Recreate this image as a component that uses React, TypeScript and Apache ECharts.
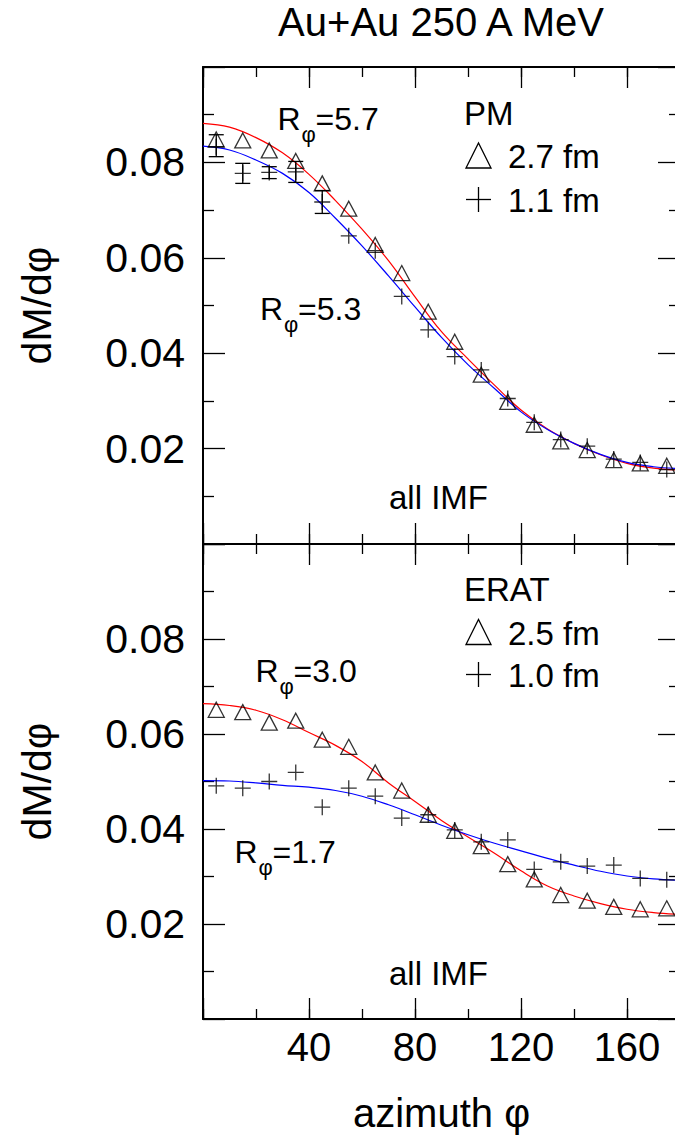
import React, { useEffect, useRef } from "react";
import * as echarts from "echarts";

// ---------- data ----------
const phi = [5, 15, 25, 35, 45, 55, 65, 75, 85, 95, 105, 115, 125, 135, 145, 155, 165, 175];

// PM panel
const pm27 = [0.0848, 0.0846, 0.0825, 0.0803, 0.0756, 0.0703, 0.0627, 0.0568, 0.0487, 0.0424, 0.0355, 0.0298, 0.025, 0.0215, 0.0197, 0.0176, 0.0169, 0.0164];
const pm11 = [0.0833, 0.0777, 0.0779, 0.078, 0.0717, 0.0646, 0.0615, 0.0519, 0.0449, 0.0393, 0.0365, 0.0305, 0.0255, 0.0219, 0.0205, 0.0178, 0.0171, 0.0156];
const pmErrPhi = [5, 15, 25, 35, 45];
const pmErrLow = [0.0812, 0.0756, 0.0766, 0.0758, 0.0693];
const pmErrHigh = [0.0858, 0.0798, 0.0791, 0.0802, 0.0741];

// ERAT panel
const erat25 = [0.0651, 0.0646, 0.0624, 0.0628, 0.0588, 0.0573, 0.0519, 0.0481, 0.043, 0.0396, 0.0364, 0.0326, 0.0294, 0.0261, 0.0249, 0.0236, 0.0231, 0.0233];
const erat10 = [0.0491, 0.0486, 0.05, 0.0519, 0.0446, 0.0486, 0.0469, 0.0423, 0.043, 0.0398, 0.0373, 0.0377, 0.0315, 0.0331, 0.0322, 0.0324, 0.0296, 0.0293];

// fitted curves (read at these azimuths)
const fitPhi = [0, 10, 20, 30, 40, 50, 60, 70, 80, 90, 100, 110, 120, 130, 140, 150, 160, 170, 180];
const pmFit57 = [0.0882, 0.0874, 0.0852, 0.082, 0.0775, 0.072, 0.066, 0.0594, 0.0518, 0.0445, 0.0388, 0.0333, 0.0281, 0.0241, 0.0211, 0.0187, 0.0169, 0.0159, 0.0155];
const pmFit53 = [0.0834, 0.0826, 0.0805, 0.0777, 0.0737, 0.0683, 0.0625, 0.0562, 0.0497, 0.0433, 0.0376, 0.0326, 0.0277, 0.024, 0.0211, 0.0188, 0.0171, 0.0162, 0.0158];
const eratFit30 = [0.0664, 0.066, 0.065, 0.063, 0.0603, 0.0576, 0.0542, 0.0497, 0.0458, 0.0418, 0.0383, 0.0349, 0.0312, 0.028, 0.0259, 0.0243, 0.0231, 0.0224, 0.022];
const eratFit17 = [0.0502, 0.0501, 0.0497, 0.0492, 0.0488, 0.0481, 0.0469, 0.0451, 0.043, 0.0408, 0.0388, 0.037, 0.0354, 0.0338, 0.0324, 0.0311, 0.0301, 0.0295, 0.0292];

// tick labels
const xTickLabels = [40, 80, 120, 160];
const yTickLabels = ["0.02", "0.04", "0.06", "0.08"];

// ---------- styling ----------
const FONT = "'Liberation Sans', Arial, Helvetica, sans-serif";
const BLACK = "#000000";
const PHI = "\u03c6";

const zip = (xs: number[], ys: number[]) => xs.map((x, i) => [x, ys[i]]);

function xAxis(gridIndex: number, position: string, major: boolean, labels: boolean, name?: string) {
  return {
    type: "value",
    gridIndex,
    position,
    min: 0,
    max: 180,
    interval: major ? 40 : 20,
    axisLine: { show: major, onZero: false, lineStyle: { color: BLACK, width: 2 } },
    axisTick: { show: true, inside: true, length: major ? 21 : 10, lineStyle: { color: BLACK, width: 1.3 } },
    axisLabel: labels
      ? {
          show: true,
          fontSize: 40,
          fontFamily: FONT,
          color: BLACK,
          margin: 8,
          formatter: (v: number) => (xTickLabels.indexOf(Math.round(v)) >= 0 ? String(Math.round(v)) : ""),
        }
      : { show: false },
    splitLine: { show: false },
    name: name || "",
    nameLocation: "middle",
    nameGap: 74,
    nameTextStyle: { fontSize: 40, fontFamily: FONT, color: BLACK },
  };
}

function yAxis(gridIndex: number, position: string, labels: boolean) {
  return {
    type: "value",
    gridIndex,
    position,
    min: 0,
    max: 0.1,
    interval: 0.02,
    axisLine: { show: true, onZero: false, lineStyle: { color: BLACK, width: 2 } },
    axisTick: { show: true, inside: true, length: 22, lineStyle: { color: BLACK, width: 1.3 } },
    minorTick: { show: true, splitNumber: 2, length: 11, lineStyle: { color: BLACK, width: 1.3 } },
    axisLabel: labels
      ? {
          show: true,
          fontSize: 41,
          fontFamily: FONT,
          color: BLACK,
          margin: 18,
          formatter: (v: number) => (yTickLabels.indexOf(v.toFixed(2)) >= 0 ? v.toFixed(2) : ""),
        }
      : { show: false },
    splitLine: { show: false },
    minorSplitLine: { show: false },
    name: labels ? "dM/d" + PHI : "",
    nameLocation: "middle",
    nameGap: 146,
    nameTextStyle: { fontSize: 41, fontFamily: FONT, color: BLACK },
  };
}

const TRI = "triangle";
const PLUS = "path://M0,8L16,8M8,0L8,16";

function triSeries(xi: number, yi: number, ys: number[]) {
  return {
    type: "scatter",
    xAxisIndex: xi,
    yAxisIndex: yi,
    symbol: TRI,
    symbolSize: [16, 15],
    itemStyle: { color: "rgba(0,0,0,0)", borderColor: BLACK, borderWidth: 1.3 },
    data: zip(phi, ys),
    z: 5,
  };
}

function plusSeries(xi: number, yi: number, ys: number[]) {
  return {
    type: "scatter",
    xAxisIndex: xi,
    yAxisIndex: yi,
    symbol: PLUS,
    symbolSize: 16,
    itemStyle: { color: "rgba(0,0,0,0)", borderColor: BLACK, borderWidth: 1.3 },
    data: zip(phi, ys),
    z: 5,
  };
}

function fitSeries(xi: number, yi: number, ys: number[], color: string) {
  return {
    type: "line",
    xAxisIndex: xi,
    yAxisIndex: yi,
    smooth: 0.4,
    symbol: "none",
    lineStyle: { color, width: 1.2 },
    data: zip(fitPhi, ys),
    z: 4,
  };
}

function errSeries(xi: number, yi: number, xs: number[], lo: number[], hi: number[]) {
  return {
    type: "custom",
    xAxisIndex: xi,
    yAxisIndex: yi,
    encode: { x: 0, y: [1, 2] },
    data: xs.map((x, i) => [x, lo[i], hi[i]]),
    z: 5,
    renderItem: (params: any, api: any) => {
      const x = api.value(0);
      const a = api.coord([x, api.value(1)]);
      const b = api.coord([x, api.value(2)]);
      const w = 7.5;
      const st = { stroke: BLACK, lineWidth: 1.3 };
      return {
        type: "group",
        children: [
          { type: "line", shape: { x1: a[0], y1: a[1], x2: b[0], y2: b[1] }, style: st },
          { type: "line", shape: { x1: a[0] - w, y1: a[1], x2: a[0] + w, y2: a[1] }, style: st },
          { type: "line", shape: { x1: b[0] - w, y1: b[1], x2: b[0] + w, y2: b[1] }, style: st },
        ],
      };
    },
  };
}

function txt(text: string, x: number, y: number, size: number, align = "left") {
  return {
    type: "text",
    x,
    y,
    z: 10,
    style: {
      text,
      fill: BLACK,
      fontSize: size,
      fontFamily: FONT,
      align,
      verticalAlign: "middle",
      textAlign: align,
      textVerticalAlign: "middle",
    },
  };
}

function rLabel(x: number, y: number, val: string) {
  return [
    txt("R", x, y, 32),
    txt(PHI, x + 24, y + 16, 22),
    txt("=" + val, x + 38, y, 32),
  ];
}

const lineStyle = { stroke: BLACK, lineWidth: 1.3 };
function legendTri(cx: number, cy: number) {
  return {
    type: "polygon",
    z: 10,
    shape: { points: [[cx - 12.5, cy + 12.5], [cx + 12.5, cy + 12.5], [cx, cy - 12.5]] },
    style: { fill: "none", stroke: BLACK, lineWidth: 1.3 },
  };
}
function legendPlus(cx: number, cy: number) {
  return [
    { type: "line", z: 10, shape: { x1: cx - 12.5, y1: cy, x2: cx + 12.5, y2: cy }, style: lineStyle },
    { type: "line", z: 10, shape: { x1: cx, y1: cy - 12.5, x2: cx, y2: cy + 12.5 }, style: lineStyle },
  ];
}

export default function App() {
  const ref = useRef<HTMLDivElement>(null);
  useEffect(() => {
    if (!ref.current) return;
    const chart = echarts.init(ref.current, null, { renderer: "svg" });
    const option: any = {
      animation: false,
      backgroundColor: "#ffffff",
      grid: [
        { left: 203, top: 67, width: 477, height: 477, containLabel: false, outerBoundsMode: "none" },
        { left: 203, top: 544, width: 477, height: 475, containLabel: false, outerBoundsMode: "none" },
      ],
      xAxis: [
        xAxis(0, "bottom", true, false),
        xAxis(0, "bottom", false, false),
        xAxis(0, "top", true, false),
        xAxis(0, "top", false, false),
        xAxis(1, "bottom", true, true, "azimuth " + PHI),
        xAxis(1, "bottom", false, false),
        xAxis(1, "top", true, false),
        xAxis(1, "top", false, false),
      ],
      yAxis: [yAxis(0, "left", true), yAxis(0, "right", false), yAxis(1, "left", true), yAxis(1, "right", false)],
      series: [
        fitSeries(0, 0, pmFit57, "#ff0000"),
        fitSeries(0, 0, pmFit53, "#0000ff"),
        errSeries(0, 0, pmErrPhi, pmErrLow, pmErrHigh),
        triSeries(0, 0, pm27),
        plusSeries(0, 0, pm11),
        fitSeries(4, 2, eratFit30, "#ff0000"),
        fitSeries(4, 2, eratFit17, "#0000ff"),
        triSeries(4, 2, erat25),
        plusSeries(4, 2, erat10),
      ],
      graphic: [
        txt("Au+Au 250 A MeV", 441, 21.5, 40, "center"),
        ...rLabel(277.5, 118.5, "5.7"),
        ...rLabel(260, 308.5, "5.3"),
        txt("PM", 464, 113, 33),
        legendTri(478.5, 155.5),
        txt("2.7 fm", 508, 156, 33),
        ...legendPlus(478.5, 199.5),
        txt("1.1 fm", 508, 200, 33),
        txt("all IMF", 389, 497, 33),
        ...rLabel(255.5, 670.5, "3.0"),
        ...rLabel(234.5, 851.5, "1.7"),
        txt("ERAT", 464, 589, 33),
        legendTri(478.5, 632),
        txt("2.5 fm", 508, 633, 33),
        ...legendPlus(478.5, 674.5),
        txt("1.0 fm", 508, 675, 33),
        txt("all IMF", 389, 973, 33),
      ],
    };
    chart.setOption(option);
    return () => chart.dispose();
  }, []);
  return (
    <div
      ref={ref}
      style={{ position: "absolute", left: 0, top: 0, width: 675, height: 1144, background: "#ffffff" }}
    />
  );
}
